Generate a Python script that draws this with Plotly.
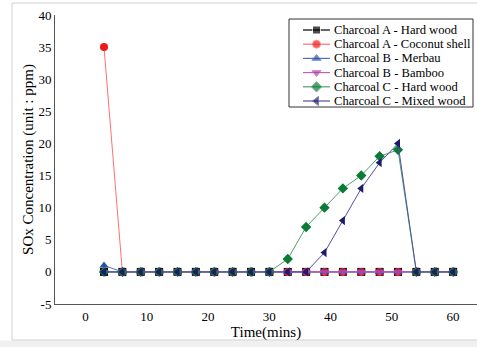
import plotly.graph_objects as go

time = [3, 6, 9, 12, 15, 18, 21, 24, 27, 30, 33, 36, 39, 42, 45, 48, 51, 54, 57, 60]
a_hard = [0]*20
a_coconut = [35] + [0]*19
b_merbau = [1] + [0]*19
b_bamboo = [0]*20
c_hard = [0, 0, 0, 0, 0, 0, 0, 0, 0, 0, 2, 7, 10, 13, 15, 18, 19, 0, 0, 0]
c_mixed = [0, 0, 0, 0, 0, 0, 0, 0, 0, 0, 0, 0, 3, 8, 13, 17, 20, 0, 0, 0]
names = ["Charcoal A - Hard wood", "Charcoal A - Coconut shell", "Charcoal B - Merbau",
         "Charcoal B - Bamboo", "Charcoal C - Hard wood", "Charcoal C - Mixed wood"]
values = [a_hard, a_coconut, b_merbau, b_bamboo, c_hard, c_mixed]
x_ticks = [0, 10, 20, 30, 40, 50, 60]
y_ticks = [-5, 0, 5, 10, 15, 20, 25, 30, 35, 40]
y_ticktext = ["-5", "0", "5", "10", "15", "20", "25", "30", "35", "40"]

marker_colors = ["#000000", "#f01818", "#2a4fa8", "#b040a8", "#0a7a35", "#1c1c6c"]
line_colors = ["#000000", "#ff7070", "#5070c0", "#c060b8", "#50a070", "#5050a0"]
symbols = ["square", "circle", "triangle-up", "triangle-down", "diamond", "triangle-left"]

FONT = "Liberation Serif"

W, H = 477, 347
l, r, t, b = 55, 0, 15, 43
pw, ph = W - l - r, H - t - b

def px(xp):
    return (xp - l) / pw

def py(yp):
    return (H - b - yp) / ph

fig = go.Figure()
for name, ys, mc, lc, sym in zip(names, values, marker_colors, line_colors, symbols):
    fig.add_trace(go.Scatter(
        x=time, y=ys, name=name, mode="lines+markers",
        line=dict(color=lc, width=1),
        marker=dict(color=mc, symbol=sym, size=8),
        showlegend=False,
    ))

# custom compact legend (overlay axis in plot-fraction units)
annotations = []
row0, row_gap = 30, 14.2
lx0, lx1, tx = 303, 330, 333
for i, (name, mc, lc, sym) in enumerate(zip(names, marker_colors, line_colors, symbols)):
    yy = py(row0 + i * row_gap)
    fig.add_trace(go.Scatter(
        x=[px(lx0), px((lx0 + lx1) / 2), px(lx1)], y=[yy, yy, yy],
        mode="lines+markers", xaxis="x2", yaxis="y2", showlegend=False, hoverinfo="skip",
        line=dict(color=lc, width=1.2),
        marker=dict(color=mc, symbol=sym, size=[0, 8, 0]),
    ))
    annotations.append(dict(
        x=px(tx), y=yy, xref="x2", yref="y2", text=name, showarrow=False,
        xanchor="left", yanchor="middle", borderpad=0,
        font=dict(family=FONT, size=12.6, color="black"),
    ))

tickfont = dict(family=FONT, size=13, color="black")
fig.update_layout(
    width=W, height=H,
    margin=dict(l=l, r=r, t=t, b=b, autoexpand=False),
    paper_bgcolor="white", plot_bgcolor="white",
    font=dict(family=FONT, size=13, color="black"),
    showlegend=False,
    xaxis=dict(
        range=[-5, 63.9], tickvals=x_ticks, tickfont=tickfont,
        showgrid=False, zeroline=False, showline=True, linecolor="#555555", linewidth=1,
        ticks="", ticklen=0, automargin=False,
        title=dict(text="Time(mins)", font=dict(family=FONT, size=15), standoff=2),
    ),
    yaxis=dict(
        range=[-5, 40], tickvals=y_ticks, ticktext=y_ticktext, tickfont=tickfont,
        showgrid=False, zeroline=False, showline=True, linecolor="#555555", linewidth=1,
        ticks="", ticklen=0, automargin=False,
        title=dict(text="SOx Concentration (unit : ppm)", font=dict(family=FONT, size=15), standoff=1),
    ),
    xaxis2=dict(overlaying="x", range=[0, 1], visible=False, fixedrange=True),
    yaxis2=dict(overlaying="y", range=[0, 1], visible=False, fixedrange=True),
    annotations=annotations,
    shapes=[
        dict(type="rect", xref="paper", yref="paper",
             x0=px(0), x1=px(480), y0=py(350), y1=py(340.5),
             line=dict(width=0), fillcolor="#f0f0f0", layer="below"),
        dict(type="rect", xref="paper", yref="paper",
             x0=px(12), x1=px(479), y0=py(340), y1=py(3),
             line=dict(color="#d0d0d0", width=1), fillcolor="rgba(0,0,0,0)", layer="below"),
        dict(type="rect", xref="paper", yref="paper",
             x0=px(289), x1=px(473), y0=py(107), y1=py(19),
             line=dict(color="#333333", width=1), fillcolor="white", layer="below"),
    ],
)

fig.write_html("out.html", config={"displayModeBar": False},
               post_script="document.body.style.margin='0';document.body.style.padding='0';")
